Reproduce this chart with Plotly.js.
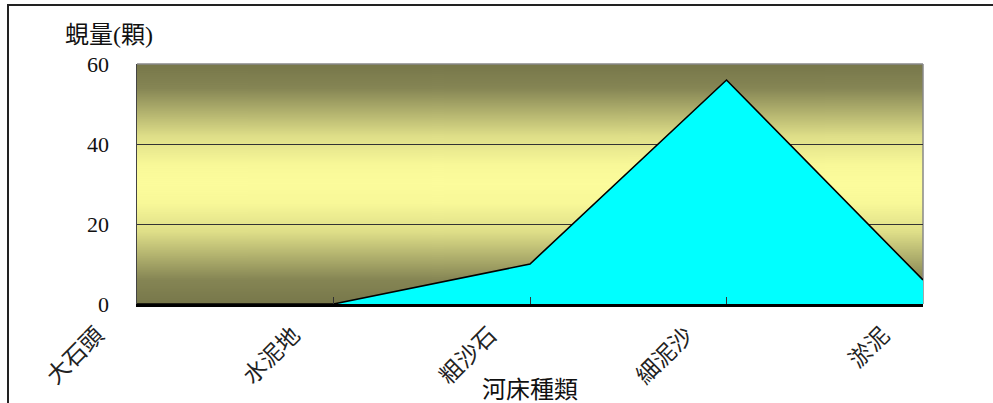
<!DOCTYPE html>
<html>
<head>
<meta charset="utf-8">
<script src="https://cdn.plot.ly/plotly-3.0.1.min.js"></script>
<style>
  html, body { margin: 0; padding: 0; background: #fff; }
  #frame { position: absolute; left: 7px; top: 4px; width: 1000px; height: 420px;
           border-left: 2px solid #222; border-top: 2px solid #222; }
  #chart { position: absolute; left: 0; top: 0; width: 993px; height: 403px; }
</style>
</head>
<body>
<div id="frame"></div>
<div id="chart"></div>
<script>
// River-bed types and clam counts found on each
const bedTypes = ['大石頭', '水泥地', '粗沙石', '細泥沙', '淤泥'];
const clamCounts = [0, 0, 10, 56, 6];
const yTicks = [0, 20, 40, 60];

const yTitle = '蜆量(顆)';
const xTitle = '河床種類';

// Vertical olive-to-pale-yellow gradient for the plot area
function gradientImage() {
  const c = document.createElement('canvas');
  c.width = 4; c.height = 240;
  const g = c.getContext('2d');
  const grd = g.createLinearGradient(0, 0, 0, 240);
  grd.addColorStop(0.00, '#77774a');
  grd.addColorStop(0.10, '#858554');
  grd.addColorStop(0.30, '#dede88');
  grd.addColorStop(0.42, '#f8f898');
  grd.addColorStop(0.50, '#fcfc9c');
  grd.addColorStop(0.58, '#f8f898');
  grd.addColorStop(0.70, '#dede88');
  grd.addColorStop(0.90, '#858554');
  grd.addColorStop(1.00, '#77774a');
  g.fillStyle = grd;
  g.fillRect(0, 0, 4, 240);
  return c.toDataURL('image/png');
}

const serif = '"Liberation Serif", "Noto Sans CJK TC", serif';
const cjk = '"Liberation Serif", "Noto Sans CJK TC", sans-serif';

const trace = {
  type: 'scatter',
  mode: 'lines',
  x: bedTypes,
  y: clamCounts,
  fill: 'tozeroy',
  fillcolor: '#00ffff',
  line: { color: '#000000', width: 1.6 },
  hoverinfo: 'x+y'
};

const layout = {
  width: 993,
  height: 403,
  margin: { l: 137, r: 70, t: 64, b: 99, pad: 0 },
  paper_bgcolor: 'rgba(0,0,0,0)',
  plot_bgcolor: 'rgba(0,0,0,0)',
  showlegend: false,
  xaxis: {
    type: 'category',
    range: [0, 4],
    showgrid: false,
    zeroline: false,
    showline: true,
    linecolor: '#000',
    linewidth: 2.5,
    ticks: 'inside',
    ticklen: 7,
    tickcolor: '#333',
    tickwidth: 1,
    tickangle: -45,
    ticklabelshift: -40,
    ticklabelstandoff: 6,
    tickfont: { family: cjk, size: 23, color: '#222' },
    title: { text: xTitle, font: { family: cjk, size: 24, color: '#111' }, standoff: 0 }
  },
  yaxis: {
    range: [0, 60],
    tickvals: yTicks,
    showgrid: true,
    gridcolor: '#333',
    gridwidth: 1,
    zeroline: false,
    showline: true,
    linecolor: '#444',
    linewidth: 1.5,
    ticks: 'inside',
    ticklen: 8,
    tickcolor: '#333',
    ticklabelstandoff: 22,
    tickfont: { family: serif, size: 22, color: '#111' }
  },
  images: [{
    source: gradientImage(),
    xref: 'paper', yref: 'paper',
    x: 0, y: 1, sizex: 1, sizey: 1,
    sizing: 'stretch',
    xanchor: 'left', yanchor: 'top',
    layer: 'below'
  }],
  shapes: [
    { type: 'line', xref: 'paper', yref: 'paper', x0: 0, x1: 1, y0: 1, y1: 1,
      line: { color: '#888', width: 1.5 }, layer: 'below' },
    { type: 'line', xref: 'paper', yref: 'paper', x0: 1, x1: 1, y0: 0, y1: 1,
      line: { color: '#888', width: 1.5 }, layer: 'below' }
  ],
  annotations: [{
    text: yTitle,
    xref: 'paper', yref: 'paper',
    x: -0.094, y: 1.0, xanchor: 'left', yanchor: 'bottom', yshift: 14,
    showarrow: false,
    font: { family: cjk, size: 24, color: '#111' }
  }]
};

Plotly.newPlot('chart', [trace], layout, { displayModeBar: false, staticPlot: true });
</script>
</body>
</html>
